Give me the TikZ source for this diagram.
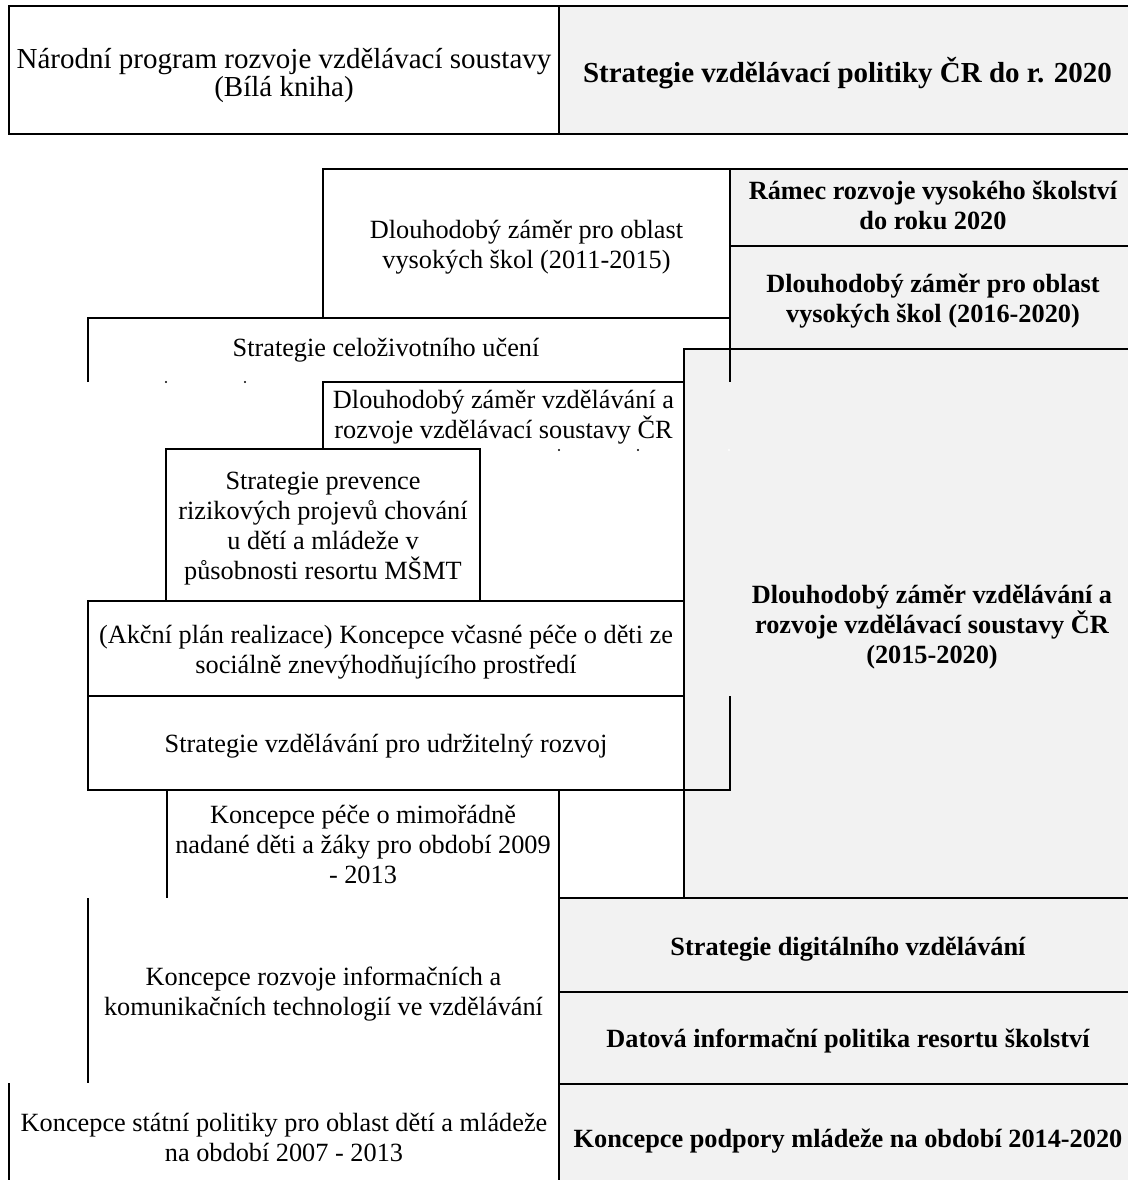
\documentclass[tikz,border=0pt]{standalone}
\usepackage{fontspec}
\setmainfont{Liberation Serif}
\usetikzlibrary{positioning}
\definecolor{cellgray}{RGB}{242,242,242}
\newcommand\up[1][26.5pt]{\rule{0pt}{#1}}

\begin{document}
\begin{tikzpicture}[x=1pt, y=-1pt, line width=1.6pt,
    cell/.style={anchor=north west, inner sep=0pt, outer sep=0pt, align=center,
      font=\fontsize{26.3}{30}\selectfont,
      execute at end node={\rule[-7pt]{0pt}{0pt}}},
    wcell/.style={cell, draw},
    gcell/.style={cell, draw, fill=cellgray, font=\fontsize{26.3}{30}\selectfont\bfseries}]
\useasboundingbox (0,0) rectangle (1127,1180);

% big grey block first, the rest is drawn over it
\node[gcell, minimum width=496, minimum height=549] (dzs) at (684,349)
    {\up Dlouhodobý záměr vzdělávání a\\rozvoje vzdělávací soustavy ČR\\(2015-2020)};

\node[wcell, minimum width=550, minimum height=128, font=\fontsize{29}{28}\selectfont] (nar) at (9,6)
    {\up[32pt]Národní program rozvoje vzdělávací soustavy\\(Bílá kniha)};
\node[gcell, minimum width=577, minimum height=128, font=\fontsize{29}{30}\selectfont\bfseries] (strat) at (nar.north east)
    {\up[32pt]Strategie vzdělávací politiky ČR do r. 2020};

\node[wcell, minimum width=407, minimum height=149] (vs1) at (323,169)
    {\up Dlouhodobý záměr pro oblast\\vysokých škol (2011-2015)};
\node[gcell, minimum width=406, minimum height=77] (ramec) at (vs1.north east)
    {\up[20pt]Rámec rozvoje vysokého školství\\do roku 2020};
\node[gcell, minimum width=406, minimum height=103] (vs2) at (ramec.south west)
    {\up Dlouhodobý záměr pro oblast\\vysokých škol (2016-2020)};

\node[cell, minimum width=596, minimum height=64] (celo) at (88,318)
    {\up[20pt]Strategie celoživotního učení};
\node[cell, minimum width=361, minimum height=67] (dz1) at (323,382)
    {\up[23pt]Dlouhodobý záměr vzdělávání a\\rozvoje vzdělávací soustavy ČR};
\node[wcell, minimum width=314, minimum height=152] (prev) at (166,449)
    {\up Strategie prevence\\rizikových projevů chování\\u dětí a mládeže v\\působnosti resortu MŠMT};
\node[wcell, minimum width=596, minimum height=95] (akcni) at (88,601)
    {\up(Akční plán realizace) Koncepce včasné péče o děti ze\\sociálně znevýhodňujícího prostředí};
\node[wcell, minimum width=596, minimum height=94] (udrz) at (akcni.south west)
    {\up Strategie vzdělávání pro udržitelný rozvoj};

\node[cell, minimum width=392, minimum height=108] (nadani) at (167,790)
    {\up Koncepce péče o mimořádně\\nadané děti a žáky pro období 2009\\- 2013};
\node[cell, minimum width=471, minimum height=185] (ikt) at (88,898)
    {\up Koncepce rozvoje informačních a\\komunikačních technologií ve vzdělávání};
\node[cell, minimum width=550, minimum height=107] (mlad1) at (9,1083)
    {\up Koncepce státní politiky pro oblast dětí a mládeže\\na období 2007 - 2013};

\node[gcell, minimum width=578, minimum height=94] (digi) at (559,898)
    {\up[28pt]Strategie digitálního vzdělávání};
\node[gcell, minimum width=578, minimum height=92] (data) at (digi.south west)
    {\up Datová informační politika resortu školství};
\node[gcell, minimum width=578, minimum height=106] (mlad2) at (data.south west)
    {\up[28pt]Koncepce podpory mládeže na období 2014-2020};

% open edges
\draw (celo.south west) -- (celo.north west) -- (vs1.south east) -- (vs1.south east |- celo.south);
\draw (dz1.south west) -- (dz1.north west) -- (dz1.north east);
\draw (udrz.south east) -- (vs1.south east |- udrz.south) -- (vs1.south east |- akcni.south);
\draw (nadani.north west) -- (nadani.south west);
\draw (nadani.north east) -- (mlad1.south east);
\draw (ikt.north west) -- (ikt.south west);
\draw (mlad1.north west) -- (mlad1.south west);

\foreach \x/\y in {166/382, 245/382, 559/450, 638/450}
    \fill (\x,\y) circle (1.2pt);
\fill[white] (729,450) circle (1.2pt);

\end{tikzpicture}
\end{document}
